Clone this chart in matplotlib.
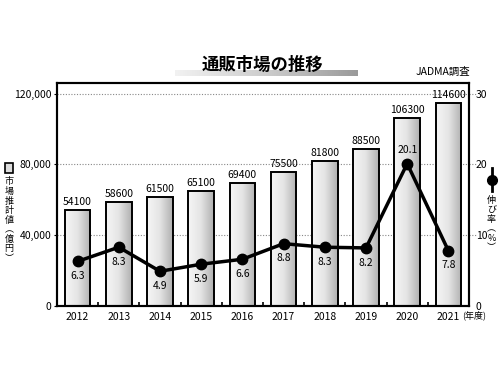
import matplotlib
matplotlib.use("Agg")
import matplotlib.pyplot as plt
import numpy as np
from matplotlib.colors import LinearSegmentedColormap

plt.rcParams['font.family'] = ['Noto Sans CJK JP', 'DejaVu Sans']

years = ['2012', '2013', '2014', '2015', '2016', '2017', '2018', '2019', '2020', '2021']
market = [54100, 58600, 61500, 65100, 69400, 75500, 81800, 88500, 106300, 114600]
growth = [6.3, 8.3, 4.9, 5.9, 6.6, 8.8, 8.3, 8.2, 20.1, 7.8]
left_ticks = [0, 40000, 80000, 120000]
left_ticklabels = ['0', '40,000', '80,000', '120,000']
right_ticks = [0, 10, 20, 30]

fig = plt.figure(figsize=(5, 3.75), dpi=100)
ax = fig.add_axes([0.114, 0.184, 0.824, 0.595])
ax2 = ax.twinx()

x = np.arange(len(years))
ymax = 126000
ax.set_xlim(-0.5, len(years) - 0.5)
ax.set_ylim(0, ymax)
ax2.set_ylim(0, ymax / 4000)

# gridlines
for t in left_ticks[1:]:
    ax.axhline(t, color='#888888', ls=(0, (1, 1.5)), lw=0.8, zorder=0)
    ax.plot([len(years) - 0.5, len(years) - 0.5 + 0.2], [t, t], color='#888888',
            ls=(0, (1, 1.5)), lw=0.8, clip_on=False, zorder=0)

# bars with gradient
cmap = LinearSegmentedColormap.from_list('g', ['#f6f6f6', '#e4e4e4', '#b0b0b0'])
grad = np.linspace(0, 1, 256).reshape(1, -1)
bars = ax.bar(x, market, width=0.62, color='none', edgecolor='black', linewidth=1.4, zorder=2)
for b in bars:
    bx, by = b.get_x(), b.get_y()
    w, h = b.get_width(), b.get_height()
    im = ax.imshow(grad, extent=[bx, bx + w, by, by + h], aspect='auto', cmap=cmap,
                   zorder=1.5, interpolation='bicubic')
    im.set_clip_path(b)
ax.set_xlim(-0.5, len(years) - 0.5)
ax.set_ylim(0, ymax)

for xi, v in zip(x, market):
    ax.text(xi, v + 1800, f'{v}', ha='center', va='bottom', fontsize=7.5, zorder=5)

# growth line
ax2.plot(x, growth, color='black', lw=2.5, marker='o', ms=7.5, zorder=4)
for xi, g in zip(x, growth):
    if g > 15:
        ax2.annotate(f'{g}', (xi, g), xytext=(0, 6), textcoords='offset points',
                     ha='center', va='bottom', fontsize=7.5)
    else:
        ax2.annotate(f'{g}', (xi, g), xytext=(0, -7), textcoords='offset points',
                     ha='center', va='top', fontsize=7.5)

# axes styling
ax.set_yticks(left_ticks)
ax.set_yticklabels(left_ticklabels, fontsize=7.5)
ax.tick_params(axis='y', length=2, width=0.8, pad=2)
ax.set_xticks(x)
ax.set_xticklabels(years, fontsize=7.5)
ax.tick_params(axis='x', length=0, pad=4)
ax.set_xticks(np.arange(0.5, len(years) - 0.5, 1), minor=True)
ax.tick_params(axis='x', which='minor', direction='in', length=3, width=1.2)
ax2.set_yticks(right_ticks)
ax2.set_yticklabels([str(t) for t in right_ticks], fontsize=7.5)
ax2.tick_params(axis='y', length=0, pad=5)
for a in (ax, ax2):
    for s in a.spines.values():
        s.set_linewidth(1.5)
ax.set_zorder(ax2.get_zorder() - 1)
ax2.patch.set_visible(False)

fig.text(0.925, 0.158, '(年度)', fontsize=6.5, ha='left', va='center')

# title and underline gradient
uax = fig.add_axes([0.35, 0.797, 0.365, 0.016])
ucmap = LinearSegmentedColormap.from_list('u', ['#f2f2f2', '#cccccc', '#9a9a9a'])
uax.imshow(grad, aspect='auto', cmap=ucmap, extent=[0, 1, 0, 1])
uax.axis('off')
fig.text(0.525, 0.826, '通販市場の推移', fontsize=12.5, fontweight='bold', ha='center', va='center')
fig.text(0.94, 0.807, 'JADMA調査', fontsize=7.5, ha='right', va='center')

# left legend label (vertical)
fig.patches.append(plt.Rectangle((0.009, 0.54), 0.017, 0.025, transform=fig.transFigure,
                                 facecolor='#dddddd', edgecolor='black', lw=1.2))
left_label = '市場推計値︵億円︶'
fig.text(0.018, 0.527, '\n'.join(left_label), fontsize=6.5, ha='center', va='top',
         linespacing=1.08)

# right legend label
fig.add_artist(plt.Line2D([0.983, 0.983], [0.49, 0.552], transform=fig.transFigure,
                          color='black', lw=2))
fig.add_artist(plt.Line2D([0.983], [0.52], transform=fig.transFigure, color='black',
                          marker='o', ms=7))
right_label = '伸び率︵%︶'
fig.text(0.983, 0.478, '\n'.join(right_label), fontsize=6.5, ha='center', va='top',
         linespacing=1.08)

fig.savefig('out.png', dpi=100)
